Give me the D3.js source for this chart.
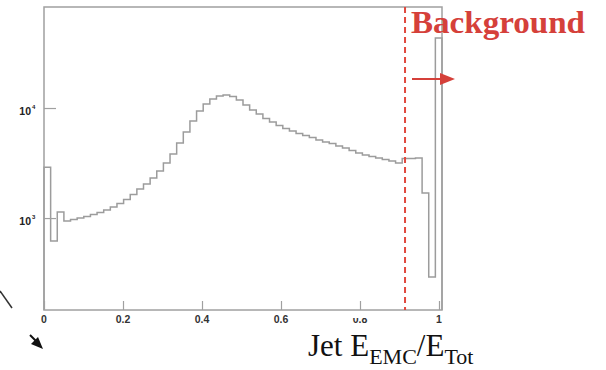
<!DOCTYPE html>
<html lang="en">
<head>
    <meta charset="UTF-8">
    <title>Jet EEMC/ETot</title>
    <script src="https://cdnjs.cloudflare.com/ajax/libs/d3/7.8.5/d3.min.js"></script>
    <style>
        body { margin: 0; background: #fff; }
    </style>
</head>
<body>
    <div id="chart"></div>
    <script>
        // 資料: 60 bins between 0 and xMax
        const xMax = 1.0076
        const nBins = 60
        const counts = [
            2900, 620, 1134, 939, 969, 1000, 1032, 1076, 1122, 1182,
            1259, 1354, 1473, 1635, 1835, 2037, 2310, 2675, 3162, 3818,
            4806, 6050, 7617, 9392, 10875, 12074, 12853, 13125, 12720, 11823,
            10648, 9590, 8820, 8028, 7458, 6935, 6510, 6178, 5864, 5623,
            5392, 5117, 4909, 4755, 4512, 4328, 4107, 3898, 3738, 3623,
            3511, 3402, 3297, 3162, 3474, 3474, 3511, 1688, 291, 43290
        ]
        const xTicks = [0, 0.2, 0.4, 0.6, 0.8, 1]
        const xTickLabels = ['0', '0.2', '0.4', '0.6', '0.8', '1']
        const yTicks = [1000, 10000]
        const yTickExp = ['3', '4']
        const yDomain = [146, 82800]
        const cutX = 0.914

        const width = 606, height = 370
        const frameL = 44, frameR = 442, frameT = 7, frameB = 310

        const svg = d3.select('#chart')
            .append('svg')
            .attr('width', width)
            .attr('height', height)
            .style('font-family', 'Liberation Sans, Arial, sans-serif')

        const x = d3.scaleLinear().domain([0, xMax]).range([frameL, frameR])
        const y = d3.scaleLog().domain(yDomain).range([frameB, frameT])

        const binW = xMax / nBins

        // histogram outline
        const pts = [[0, yDomain[0]]]
        counts.forEach((c, i) => pts.push([i * binW, c]))
        pts.push([xMax, counts[counts.length - 1]])
        pts.push([xMax, yDomain[0]])
        const line = d3.line()
            .x(d => x(d[0]))
            .y(d => y(d[1]))
            .curve(d3.curveStepAfter)

        svg.append('path')
            .attr('d', line(pts))
            .attr('fill', 'none')
            .attr('stroke', '#9c9c9c')
            .attr('stroke-width', 1.5)

        // frame
        svg.append('rect')
            .attr('x', frameL).attr('y', frameT)
            .attr('width', frameR - frameL).attr('height', frameB - frameT)
            .attr('fill', 'none')
            .attr('stroke', '#a0a0a0')
            .attr('stroke-width', 1.5)

        // x axis ticks (inward)
        const minorX = d3.range(0, 1.0001, 0.05)
        const gx = svg.append('g').attr('transform', `translate(0,${frameB})`)
        gx.call(d3.axisBottom(x).tickValues(minorX).tickSize(-5).tickFormat(''))
        gx.call(d3.axisBottom(x).tickValues(xTicks).tickSize(-9).tickFormat(''))
        gx.select('.domain').remove()
        gx.selectAll('line').attr('stroke', '#a0a0a0').attr('stroke-width', 1.2)

        svg.append('g').selectAll('text')
            .data(xTicks)
            .join('text')
            .attr('x', d => x(d))
            .attr('y', 323)
            .attr('text-anchor', 'middle')
            .attr('font-size', 10.5)
            .attr('font-weight', 'bold')
            .attr('fill', '#333')
            .text((d, i) => xTickLabels[i])

        // top of the 0.8 label is covered in the original
        svg.append('rect')
            .attr('x', x(0.8) - 12).attr('y', 312)
            .attr('width', 24).attr('height', 6)
            .attr('fill', '#fff')

        // y axis ticks (inward, log)
        const minorY = []
        for (let e = 2; e <= 4; e++) {
            for (let m = 2; m <= 9; m++) {
                const v = m * Math.pow(10, e)
                if (v >= yDomain[0] && v <= yDomain[1]) minorY.push(v)
            }
        }
        const gy = svg.append('g').attr('transform', `translate(${frameL},0)`)
        gy.call(d3.axisLeft(y).tickValues(minorY).tickSize(-6).tickFormat(''))
        gy.call(d3.axisLeft(y).tickValues(yTicks).tickSize(-12).tickFormat(''))
        gy.select('.domain').remove()
        gy.selectAll('line').attr('stroke', '#a0a0a0').attr('stroke-width', 1.2)

        svg.append('g').selectAll('text')
            .data(yTicks)
            .join('text')
            .attr('x', 31)
            .attr('y', d => y(d) + 7)
            .attr('text-anchor', 'end')
            .attr('font-size', 10.5)
            .attr('font-weight', 'bold')
            .attr('fill', '#222')
            .text('10')
        svg.append('g').selectAll('text')
            .data(yTicks)
            .join('text')
            .attr('x', 32)
            .attr('y', d => y(d) + 1)
            .attr('font-size', 6)
            .attr('font-weight', 'bold')
            .attr('fill', '#222')
            .text((d, i) => yTickExp[i])

        // cut line
        svg.append('line')
            .attr('x1', x(cutX)).attr('x2', x(cutX))
            .attr('y1', frameT).attr('y2', frameB)
            .attr('stroke', '#e0483e')
            .attr('stroke-width', 2)
            .attr('stroke-dasharray', '6,4')

        // Background label + arrow
        svg.append('text')
            .attr('x', 411).attr('y', 33)
            .attr('font-family', 'Liberation Serif, Times New Roman, serif')
            .attr('font-weight', 'bold')
            .attr('font-size', 31)
            .attr('textLength', 174)
            .attr('lengthAdjust', 'spacingAndGlyphs')
            .attr('fill', '#d5403a')
            .text('Background')

        svg.append('line')
            .attr('x1', 412).attr('x2', 442)
            .attr('y1', 79).attr('y2', 79)
            .attr('stroke', '#d5403a')
            .attr('stroke-width', 2)
        svg.append('path')
            .attr('d', 'M440,73 L455,79 L440,85 Z')
            .attr('fill', '#d5403a')

        // x title
        const title = svg.append('text')
            .attr('x', 308).attr('y', 356)
            .attr('font-family', 'Liberation Serif, Times New Roman, serif')
            .attr('font-size', 31)
            .attr('fill', '#111')
        title.append('tspan').text('Jet E')
        title.append('tspan').attr('font-size', 22).attr('dy', 8).text('EMC')
        title.append('tspan').attr('dy', -8).text('/E')
        title.append('tspan').attr('font-size', 22).attr('dy', 8).text('Tot')

        // leftover bits of a neighbouring diagram
        svg.append('line')
            .attr('x1', 0).attr('y1', 291)
            .attr('x2', 12).attr('y2', 308)
            .attr('stroke', '#333')
            .attr('stroke-width', 1.5)
        svg.append('line')
            .attr('x1', 30).attr('y1', 335)
            .attr('x2', 37).attr('y2', 342)
            .attr('stroke', '#111')
            .attr('stroke-width', 2)
        svg.append('path')
            .attr('d', 'M43,349 L31,344 L38,337 Z')
            .attr('fill', '#111')
    </script>
</body>
</html>
